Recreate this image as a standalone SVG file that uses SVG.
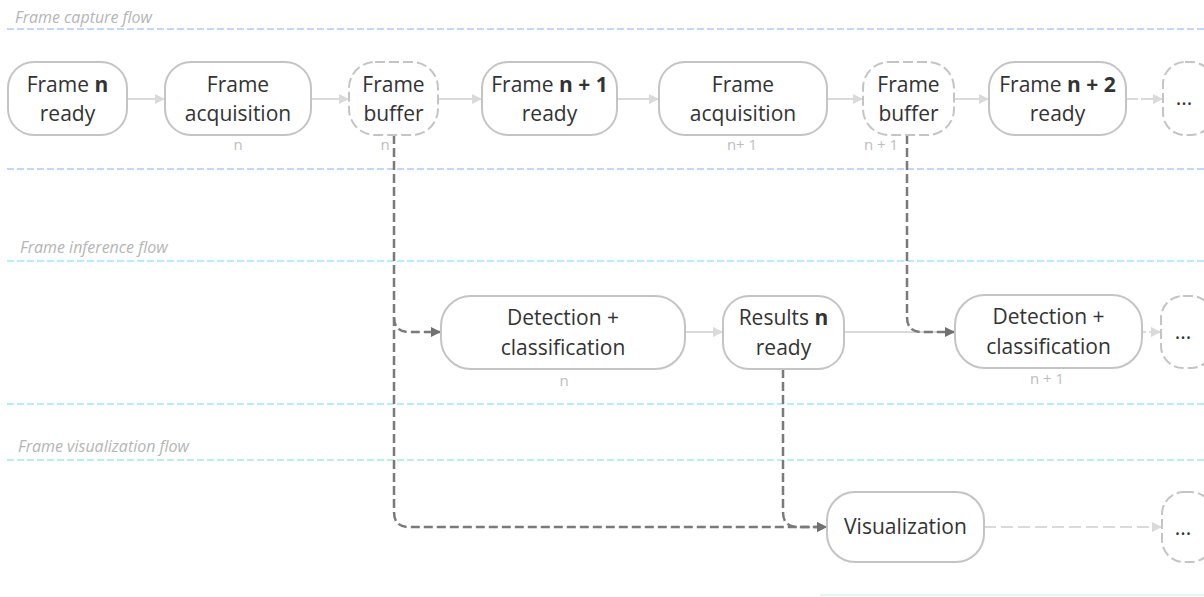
<svg xmlns="http://www.w3.org/2000/svg" width="1204" height="597" viewBox="0 0 1204 597">
<defs>
<style>
.lane{stroke-width:2;stroke-dasharray:7 3;fill:none}
.lanelbl{font-family:"Open Sans","Liberation Sans",sans-serif;font-style:italic;font-size:16px;fill:#b5b5b5}
.node{fill:#fff;stroke:#c4c4c4;stroke-width:2}
.dnode{fill:#fff;stroke:#c4c4c4;stroke-width:2;stroke-dasharray:10 4}
.t{font-family:"Open Sans","Liberation Sans",sans-serif;font-size:21px;fill:#333;text-anchor:middle}
.sub{font-family:"Open Sans","Liberation Sans",sans-serif;font-size:15px;fill:#bdbdbd;text-anchor:middle}
.la{stroke:#dadada;stroke-width:2;fill:none;marker-end:url(#ah-l)}
.da{stroke:#7a7a7a;stroke-width:2.5;fill:none;stroke-dasharray:9 4}
</style>
<marker id="ah-l" viewBox="0 0 10 10" refX="9" refY="5" markerWidth="5" markerHeight="5" orient="auto" markerUnits="strokeWidth"><path d="M0,0 L10,5 L0,10 z" fill="#dadada"/></marker>
<marker id="ah-d" viewBox="0 0 10 10" refX="9" refY="5" markerWidth="4" markerHeight="4" orient="auto" markerUnits="strokeWidth"><path d="M0,0 L10,5 L0,10 z" fill="#707070"/></marker>
</defs>
<rect width="1204" height="597" fill="#fff"/>
<g id="lanes">
<line class="lane" x1="7" y1="29" x2="1204" y2="29" stroke="#c0d8fd"/>
<line class="lane" x1="7" y1="169" x2="1204" y2="169" stroke="#c0d8fd"/>
<line class="lane" x1="7" y1="261" x2="1204" y2="261" stroke="#b3eefa"/>
<line class="lane" x1="7" y1="404" x2="1204" y2="404" stroke="#b3eefa"/>
<line class="lane" x1="7" y1="460" x2="1204" y2="460" stroke="#b8f2e2"/>
<line x1="820" y1="595" x2="1204" y2="595" stroke="#e0f9f1" stroke-width="2"/>
<text class="lanelbl" x="15" y="23">Frame capture flow</text>
<text class="lanelbl" x="20" y="253">Frame inference flow</text>
<text class="lanelbl" x="18" y="452">Frame visualization flow</text>
</g>
<g id="connectors">
<line class="la" x1="127" y1="99" x2="164" y2="99"/>
<line class="la" x1="311" y1="99" x2="348" y2="99"/>
<line class="la" x1="438" y1="99" x2="481" y2="99"/>
<line class="la" x1="617" y1="99" x2="658" y2="99"/>
<line class="la" x1="827" y1="99" x2="862" y2="99"/>
<line class="la" x1="954" y1="99" x2="988" y2="99"/>
<line class="la" x1="1126" y1="99" x2="1162" y2="99" stroke-dasharray="12 3"/>
<line class="la" x1="685" y1="332" x2="722" y2="332"/>
<line x1="844" y1="332" x2="940" y2="332" stroke="#dadada" stroke-width="2"/>
<line class="la" x1="1142" y1="332" x2="1160" y2="332" stroke-dasharray="4 3"/>
<line class="la" x1="984" y1="527" x2="1161" y2="527" stroke-dasharray="12 5"/>
<path class="da" d="M394,135 V317 Q394,332 409,332 H440" marker-end="url(#ah-d)"/>
<path class="da" d="M394,317 V512 Q394,527 409,527 H826" marker-end="url(#ah-d)"/>
<path class="da" d="M783,369 V512 Q783,527 798,527 H826" marker-end="url(#ah-d)"/>
<path class="da" d="M907,135 V317 Q907,332 922,332 H954" marker-end="url(#ah-d)"/>
</g>
<g id="n-frame-n-ready">
<rect class="node" x="8" y="62" width="119" height="73" rx="26"/>
<text class="t" x="67.5" y="92">Frame <tspan font-weight="bold">n</tspan></text>
<text class="t" x="67.5" y="121">ready</text>
</g>
<g id="n-frame-acq-1">
<rect class="node" x="165" y="62" width="146" height="73" rx="26"/>
<text class="t" x="238" y="92">Frame</text>
<text class="t" x="238" y="121">acquisition</text>
<text class="sub" x="238" y="150">n</text>
</g>
<g id="n-frame-buffer-1">
<rect class="dnode" x="349" y="62" width="89" height="73" rx="26"/>
<text class="t" x="393.5" y="92">Frame</text>
<text class="t" x="393.5" y="121">buffer</text>
<text class="sub" x="385" y="150">n</text>
</g>
<g id="n-frame-n1-ready">
<rect class="node" x="482" y="62" width="135" height="73" rx="26"/>
<text class="t" x="549.5" y="92">Frame <tspan font-weight="bold">n + 1</tspan></text>
<text class="t" x="549.5" y="121">ready</text>
</g>
<g id="n-frame-acq-2">
<rect class="node" x="659" y="62" width="168" height="73" rx="26"/>
<text class="t" x="743" y="92">Frame</text>
<text class="t" x="743" y="121">acquisition</text>
<text class="sub" x="742" y="150">n+ 1</text>
</g>
<g id="n-frame-buffer-2">
<rect class="dnode" x="863" y="62" width="91" height="73" rx="26"/>
<text class="t" x="908.5" y="92">Frame</text>
<text class="t" x="908.5" y="121">buffer</text>
<text class="sub" x="881" y="150">n + 1</text>
</g>
<g id="n-frame-n2-ready">
<rect class="node" x="989" y="62" width="137" height="73" rx="26"/>
<text class="t" x="1057.5" y="92">Frame <tspan font-weight="bold">n + 2</tspan></text>
<text class="t" x="1057.5" y="121">ready</text>
</g>
<g id="n-more-capture">
<rect class="dnode" x="1163" y="62" width="50" height="73" rx="22"/>
<text class="t" x="1184" y="105">...</text>
</g>
<g id="n-detect-1">
<rect class="node" x="441" y="296" width="244" height="73" rx="30"/>
<text class="t" x="563" y="325">Detection +</text>
<text class="t" x="563" y="355">classification</text>
<text class="sub" x="564" y="386">n</text>
</g>
<g id="n-results-n">
<rect class="node" x="723" y="296" width="121" height="73" rx="26"/>
<text class="t" x="783.5" y="325">Results <tspan font-weight="bold">n</tspan></text>
<text class="t" x="783.5" y="355">ready</text>
</g>
<g id="n-detect-2">
<rect class="node" x="955" y="295" width="187" height="73" rx="30"/>
<text class="t" x="1048.5" y="324">Detection +</text>
<text class="t" x="1048.5" y="354">classification</text>
<text class="sub" x="1047" y="384">n + 1</text>
</g>
<g id="n-more-inference">
<rect class="dnode" x="1161" y="296" width="52" height="72" rx="22"/>
<text class="t" x="1183" y="339">...</text>
</g>
<g id="n-visualization">
<rect class="node" x="827" y="492" width="157" height="70" rx="28"/>
<text class="t" x="905.5" y="534">Visualization</text>
</g>
<g id="n-more-vis">
<rect class="dnode" x="1162" y="492" width="51" height="70" rx="22"/>
<text class="t" x="1183" y="535">...</text>
</g>
</svg>
